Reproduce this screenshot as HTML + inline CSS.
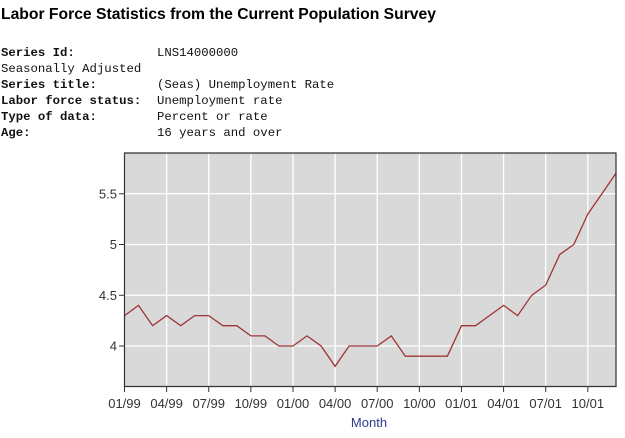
<!DOCTYPE html>
<html><head><meta charset="utf-8"><style>
body{margin:0;background:#fff;width:625px;height:438px;overflow:hidden;position:relative}
.t{position:absolute;left:1px;top:6px;font:bold 15.7px "Liberation Sans",sans-serif;color:#000}
.m{position:absolute;font:12.3px "Liberation Mono",monospace;color:#111;white-space:pre;line-height:16px}
</style></head><body>
<div class="t">Labor Force Statistics from the Current Population Survey</div>
<div class="m" style="left:1px;top:45px"><b>Series Id:</b>
Seasonally Adjusted
<b>Series title:</b>
<b>Labor force status:</b>
<b>Type of data:</b>
<b>Age:</b></div>
<div class="m" style="left:157px;top:45px">LNS14000000

(Seas) Unemployment Rate
Unemployment rate
Percent or rate
16 years and over</div>
<svg width="625" height="438" style="position:absolute;left:0;top:0">
<rect x="124.5" y="153" width="491" height="233" fill="#d9d9d9"/>
<g stroke="#fff" stroke-width="1.3" id="g"></g>
<polyline id="p" fill="none" stroke="#a03535" stroke-width="1.3"/>
<path d="M124.5 153V386.5H616V153Z" fill="none" stroke="#333" stroke-width="1.2"/>
<g id="ax" font-family="Liberation Sans,sans-serif" font-size="13" fill="#333"></g>
<text x="369" y="427" font-family="Liberation Sans,sans-serif" font-size="13" fill="#2a3e8a" text-anchor="middle">Month</text>
</svg>
<script>
var d=[4.3,4.4,4.2,4.3,4.2,4.3,4.3,4.2,4.2,4.1,4.1,4.0,4.0,4.1,4.0,3.8,4.0,4.0,4.0,4.1,3.9,3.9,3.9,3.9,4.2,4.2,4.3,4.4,4.3,4.5,4.6,4.9,5.0,5.3,5.5,5.7];
function X(i){return 124.5+i*14.04}function Y(v){return 346-(v-4)*101.5}
document.getElementById('p').setAttribute('points',d.map((v,i)=>X(i).toFixed(1)+','+Y(v).toFixed(1)).join(' '));
var g='',a='',L=['01/99','04/99','07/99','10/99','01/00','04/00','07/00','10/00','01/01','04/01','07/01','10/01'];
for(var k=1;k<12;k++){var x=X(k*3);g+='<line x1="'+x+'" x2="'+x+'" y1="153" y2="386"/>';}
[4,4.5,5,5.5].forEach(v=>{var y=Y(v);g+='<line x1="124.5" x2="616" y1="'+y+'" y2="'+y+'"/>';a+='<line x1="119" x2="124.5" y1="'+y+'" y2="'+y+'" stroke="#333"/><text x="117" y="'+(y+4.5)+'" text-anchor="end">'+(v==4?'4':v==5?'5':v)+'</text>';});
for(var k=0;k<12;k++){var x=X(k*3);a+='<line x1="'+x+'" x2="'+x+'" y1="386" y2="392" stroke="#333"/><text x="'+x+'" y="408" text-anchor="middle">'+L[k]+'</text>';}
document.getElementById('g').innerHTML=g;document.getElementById('ax').innerHTML=a;
</script>
</body></html>
